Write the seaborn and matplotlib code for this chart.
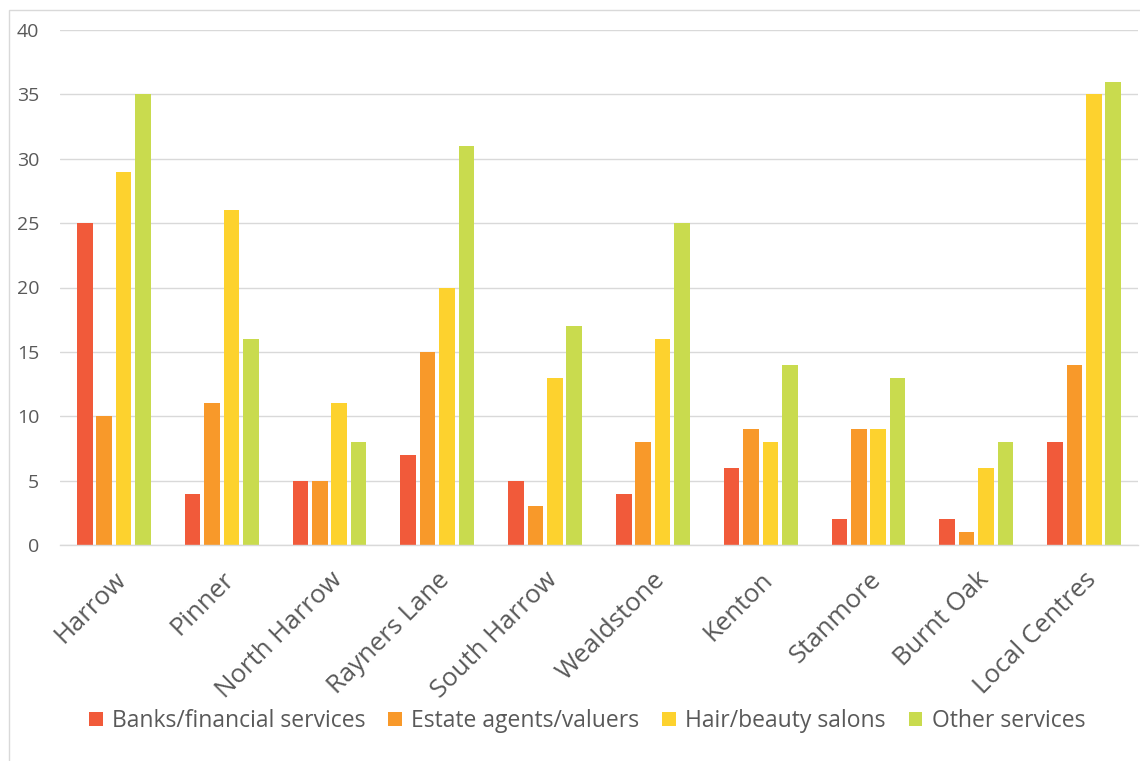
import matplotlib
matplotlib.use("Agg")
import matplotlib.pyplot as plt
import seaborn as sns
import pandas as pd
from matplotlib.patches import Rectangle

# Service units by town centre
centres = ["Harrow", "Pinner", "North Harrow", "Rayners Lane", "South Harrow",
           "Wealdstone", "Kenton", "Stanmore", "Burnt Oak", "Local Centres"]
banks = [25, 4, 5, 7, 5, 4, 6, 2, 2, 8]
estate_agents = [10, 11, 5, 15, 3, 8, 9, 9, 1, 14]
hair_beauty = [29, 26, 11, 20, 13, 16, 8, 9, 6, 35]
other_services = [35, 16, 8, 31, 17, 25, 14, 13, 8, 36]

series_names = ["Banks/financial services", "Estate agents/valuers",
                "Hair/beauty salons", "Other services"]
colors = ["#F15A3A", "#F8992A", "#FDD22E", "#C9DB4E"]

df = pd.DataFrame({"Centre": centres,
                   series_names[0]: banks,
                   series_names[1]: estate_agents,
                   series_names[2]: hair_beauty,
                   series_names[3]: other_services})
long = df.melt(id_vars="Centre", var_name="Type", value_name="Count")

sns.set_theme(style="white")
plt.rcParams["font.family"] = ["Open Sans", "DejaVu Sans"]
text_color = "#595959"

fig = plt.figure(figsize=(11.4, 7.61), dpi=100)
ax = fig.add_axes([60 / 1140, 1 - 545 / 761, 1078 / 1140, 515 / 761])

sns.barplot(data=long, x="Centre", y="Count", hue="Type", order=centres,
            hue_order=series_names, palette=colors, width=0.72, gap=0.2,
            saturation=1, ax=ax, legend=True, edgecolor="none")

ax.set_ylim(0, 40)
ax.set_yticks(range(0, 41, 5))
ax.set_xlim(-0.5, len(centres) - 0.5)
ax.yaxis.grid(True, color="#D9D9D9", linewidth=1)
ax.set_axisbelow(True)
for side in ["left", "right", "top"]:
    ax.spines[side].set_visible(False)
ax.spines["bottom"].set_color("#D9D9D9")
ax.spines["bottom"].set_linewidth(1)
ax.set_xlabel("")
ax.set_ylabel("")
ax.tick_params(axis="both", length=0, colors=text_color)
ax.tick_params(axis="y", labelsize=14, pad=15)
ax.tick_params(axis="x", labelsize=18.5, pad=16)
for lbl in ax.get_xticklabels():
    lbl.set_rotation(45)
    lbl.set_ha("right")
    lbl.set_rotation_mode("anchor")
    lbl.set_color(text_color)

ax.get_legend().remove()
handles = [Rectangle((0, 0), 1, 1, facecolor=c, edgecolor="none") for c in colors]
fig.legend(handles, series_names, loc="center", bbox_to_anchor=(0.515, 1 - 721 / 761),
           ncol=4, frameon=False, fontsize=16.5, labelcolor=text_color,
           handlelength=0.6, handleheight=0.6, handletextpad=0.4, columnspacing=1.0)

# light outer frame of the chart area
fig.patches.append(Rectangle((9 / 1140, -0.01), 1.0, 1 - 10 / 761 + 0.01,
                             transform=fig.transFigure, fill=False,
                             edgecolor="#D9D9D9", linewidth=1))

fig.savefig("out.png", dpi=100, facecolor="white")
